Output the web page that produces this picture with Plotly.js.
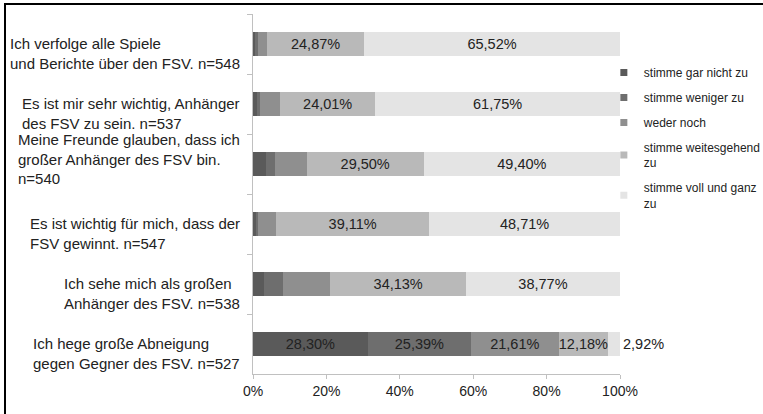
<!DOCTYPE html>
<html>
<head>
<meta charset="utf-8">
<script src="https://cdn.plot.ly/plotly-3.0.1.min.js"></script>
<style>
  html, body { margin: 0; padding: 0; background: #fff; }
  #wrap { position: relative; width: 763px; height: 414px; overflow: hidden; }
  #chart { width: 763px; height: 414px; }
  #frame { position: absolute; left: 4px; top: 3px; width: 900px; height: 600px;
           border-left: 2px solid #000; border-top: 2px solid #000; pointer-events: none; }
</style>
</head>
<body>
<div id="wrap"><div id="chart"></div><div id="frame"></div></div>
<script>
// Categories (top to bottom)
const categories = [
  "Ich verfolge alle Spiele<br>und Berichte über den FSV. n=548",
  "Es ist mir sehr wichtig, Anhänger<br>des FSV zu sein. n=537",
  "Meine Freunde glauben, dass ich<br>großer Anhänger des FSV bin.<br>n=540",
  "Es ist wichtig für mich, dass der<br>FSV gewinnt. n=547",
  "Ich sehe mich als großen<br>Anhänger des FSV. n=538",
  "Ich hege große Abneigung<br>gegen Gegner des FSV. n=527"
];
const seriesNames = [
  "stimme gar nicht zu",
  "stimme weniger zu",
  "weder noch",
  "stimme weitesgehend<br>zu",
  "stimme voll und ganz<br>zu"
];
// Values in percent of respondents (small unlabeled segments estimated)
const garNicht   = [0.6, 1.0, 3.3, 0.7, 2.7, 28.30];
const weniger    = [0.6, 0.85, 2.25, 0.7, 4.9, 25.39];
const wederNoch  = [2.4, 5.0, 7.95, 4.5, 11.9, 21.61];
const weitgehend = [24.87, 24.01, 29.50, 39.11, 34.13, 12.18];
const vollGanz   = [65.52, 61.75, 49.40, 48.71, 38.77, 2.92];
// Which segments carry a data label
const labGarNicht   = [false, false, false, false, false, true];
const labWeniger    = [false, false, false, false, false, true];
const labWederNoch  = [false, false, false, false, false, true];
const labWeitgehend = [true, true, true, true, true, true];
const labVollGanz   = [true, true, true, true, true, true];
const xTickVals = [0, 20, 40, 60, 80, 100];
const xTickText = ["0%", "20%", "40%", "60%", "80%", "100%"];

const colors = ["#5a5a5a", "#6e6e6e", "#8f8f8f", "#b9b9b9", "#e4e4e4"];
const seriesVals = [garNicht, weniger, wederNoch, weitgehend, vollGanz];
const seriesLab = [labGarNicht, labWeniger, labWederNoch, labWeitgehend, labVollGanz];
const FONT = "Liberation Sans, Arial, sans-serif";

function fmt(v) { return v.toFixed(2).replace(".", ",") + "%"; }

const traces = [];
seriesVals.forEach((vals, s) => {
  const isLast = s === seriesVals.length - 1;
  traces.push({
    type: "bar",
    orientation: "h",
    name: seriesNames[s],
    legendgroup: "g" + s,
    showlegend: false,
    y: categories,
    x: vals,
    marker: { color: colors[s], line: { width: 0 } },
    text: vals.map((v, i) => seriesLab[s][i] ? fmt(v) : ""),
    textposition: vals.map((v, i) => (isLast && v < 5) ? "outside" : "inside"),
    insidetextanchor: "middle",
    textangle: 0,
    constraintext: "none",
    cliponaxis: false,
    textfont: { family: FONT, size: 14.5, color: "#222" },
    hoverinfo: "skip"
  });
});
// legend entries (small square keys) linked to the bar series
seriesNames.forEach((n, s) => {
  traces.push({
    type: "scatter",
    mode: "markers",
    name: n,
    legendgroup: "g" + s,
    x: [null], y: [null],
    marker: { symbol: "square", size: 7, color: colors[s] },
    hoverinfo: "skip"
  });
});

const annotations = categories.map(c => ({
  xref: "paper", x: 0, xanchor: "right", xshift: -11,
  yref: "y", y: c, yanchor: "middle",
  yshift: c.split("<br>").length >= 3 ? 5 : -9,
  text: c, align: "left", showarrow: false,
  font: { family: FONT, size: 15, color: "#222" }
}));

const layout = {
  width: 763, height: 414,
  margin: { l: 253, r: 143, t: 14, b: 40, pad: 0, autoexpand: false },
  paper_bgcolor: "#fff", plot_bgcolor: "#fff",
  barmode: "stack", barnorm: "percent", bargap: 0.61,
  font: { family: FONT, color: "#222" },
  showlegend: true,
  legend: {
    x: 0.956, xanchor: "left", y: 0.878, yanchor: "top",
    traceorder: "grouped", tracegroupgap: 6,
    font: { family: FONT, size: 12, color: "#222" },
    bgcolor: "rgba(0,0,0,0)", borderwidth: 0
  },
  xaxis: {
    range: [0, 100], tickmode: "array", tickvals: xTickVals, ticktext: xTickText,
    showgrid: false, zeroline: false,
    showline: true, linecolor: "#c0c0c0", linewidth: 1,
    ticks: "outside", ticklen: 4, tickcolor: "#c0c0c0",
    tickfont: { family: FONT, size: 14, color: "#222" }
  },
  yaxis: {
    type: "category", autorange: "reversed",
    showticklabels: false, showgrid: false, zeroline: false,
    showline: true, linecolor: "#c0c0c0", linewidth: 1,
    ticks: "outside", tickson: "boundaries", ticklen: 5, tickcolor: "#c0c0c0"
  },
  annotations: annotations
};

Plotly.newPlot("chart", traces, layout, { displayModeBar: false, staticPlot: true });
</script>
</body>
</html>
